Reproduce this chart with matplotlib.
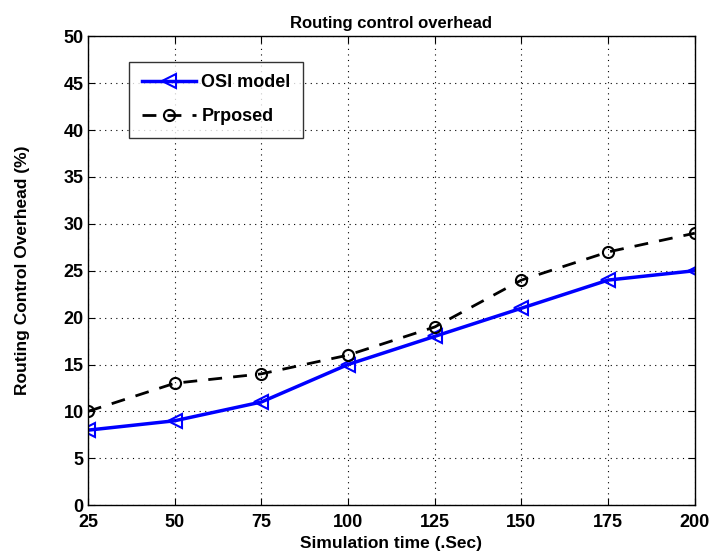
import matplotlib
matplotlib.use("Agg")
import matplotlib.pyplot as plt

sim_time = [25, 50, 75, 100, 125, 150, 175, 200]
osi_model = [8, 9, 11, 15, 18, 21, 24, 25]
proposed = [10, 13, 14, 16, 19, 24, 27, 29]

plt.rcParams['font.family'] = ['Liberation Sans', 'DejaVu Sans']
plt.rcParams['font.weight'] = 'bold'

fig = plt.figure(figsize=(7.09, 5.57), dpi=100)
ax = fig.add_axes([0.124, 0.093, 0.856, 0.842])

ax.plot(sim_time, osi_model, color='blue', linewidth=2.5, marker='<',
        markersize=10, markerfacecolor='none', markeredgewidth=1.5, label='OSI model')
ax.plot(sim_time, proposed, color='black', linewidth=2, linestyle=(0, (5, 4)),
        marker='o', markersize=8, markerfacecolor='none', markeredgewidth=1.5,
        label='Prposed')

ax.set_xlim(25, 200)
ax.set_ylim(0, 50)
ax.set_xticks(sim_time)
ax.set_yticks(range(0, 51, 5))
ax.tick_params(direction='in', top=True, right=True, length=5, labelsize=13)
ax.tick_params(axis='x', pad=6)
ax.tick_params(axis='y', pad=3)
for lbl in ax.get_xticklabels() + ax.get_yticklabels():
    lbl.set_fontweight('bold')
ax.grid(True, color='black', linestyle=(0, (1, 4)), linewidth=0.8)
for s in ax.spines.values():
    s.set_linewidth(1)

ax.set_xlabel('Simulation time (.Sec)', fontsize=12.5, fontweight='bold', labelpad=4)
ax.set_ylabel('Routing Control Overhead (%)', fontsize=12.5, fontweight='bold', labelpad=24)
ax.set_title('Routing control overhead', fontsize=12, fontweight='bold', pad=6)

leg = ax.legend(loc='upper left', bbox_to_anchor=(0.053, 0.965), fancybox=False,
                edgecolor='black', fontsize=13, handlelength=3.0, borderpad=0.7,
                labelspacing=0.95, handletextpad=0.3)
leg.get_frame().set_linewidth(1)

fig.savefig('out.png', dpi=100)
